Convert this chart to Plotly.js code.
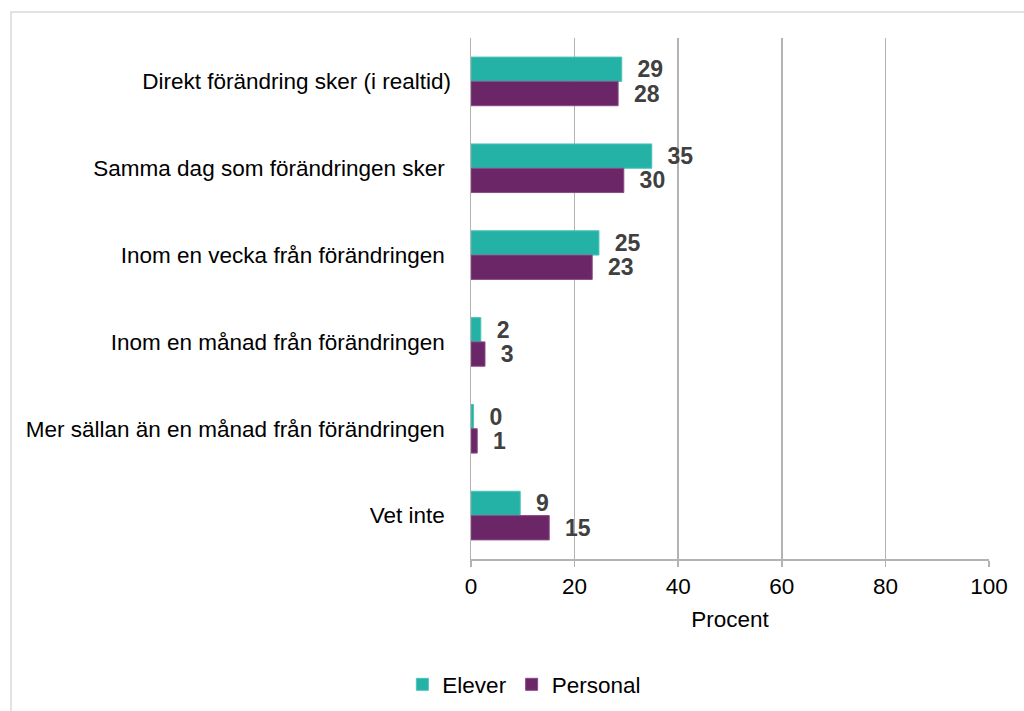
<!DOCTYPE html>
<html>
<head>
<meta charset="utf-8">
<script src="https://cdn.plot.ly/plotly-3.0.1.min.js"></script>
<style>
html,body{margin:0;padding:0;background:#fff;overflow:hidden;}
#chart{width:1024px;height:711px;}
</style>
</head>
<body>
<div id="chart"></div>
<script>
const categories = [
  "Direkt förändring sker (i realtid)",
  "Samma dag som förändringen sker ",
  "Inom en vecka från förändringen ",
  "Inom en månad från förändringen ",
  "Mer sällan än en månad från förändringen ",
  "Vet inte "
];
const eleverValues = [29.1, 34.9, 24.7, 1.9, 0.5, 9.5];
const personalValues = [28.4, 29.5, 23.4, 2.7, 1.2, 15.1];
const eleverLabels = ["29", "35", "25", "2", "0", "9"];
const personalLabels = ["28", "30", "23", "3", "1", "15"];
const xTicks = [0, 20, 40, 60, 80, 100];

const pad = "\u00a0\u00a0";
const labelFont = {family: "Liberation Sans, Arial, sans-serif", size: 23, color: "#404040", weight: "bold"};
const txt = 22.5;

const traces = [
  {
    type: "bar", orientation: "h", name: "Elever",
    x: eleverValues, y: categories,
    text: eleverLabels.map(t => pad + "<b>" + t + "</b>"),
    textposition: "outside", textfont: labelFont, constraintext: "none", cliponaxis: false,
    marker: {color: "#23B2A5", line: {color: "#4CC4B9", width: 1}},
    hoverinfo: "x+y"
  },
  {
    type: "bar", orientation: "h", name: "Personal",
    x: personalValues, y: categories,
    text: personalLabels.map(t => pad + "<b>" + t + "</b>"),
    textposition: "outside", textfont: labelFont, constraintext: "none", cliponaxis: false,
    marker: {color: "#6B2667", line: {color: "#8A4A86", width: 1}},
    hoverinfo: "x+y"
  }
];

const layout = {
  width: 1024, height: 711,
  margin: {l: 471, r: 35, t: 38, b: 152, autoexpand: false},
  paper_bgcolor: "#ffffff", plot_bgcolor: "#ffffff",
  font: {family: "Liberation Sans, Arial, sans-serif", size: txt, color: "#000000"},
  barmode: "group", bargap: 0.44, bargroupgap: 0,
  showlegend: true,
  legend: {orientation: "h", x: 0.103, xanchor: "center", y: -0.2, yanchor: "top",
           traceorder: "normal", font: {size: txt, color: "#000"}, itemwidth: 30},
  xaxis: {
    range: [0, 100], tickvals: xTicks, ticktext: xTicks.map(String),
    showgrid: true, gridcolor: "#b3b3b3", gridwidth: 1.5,
    showline: true, linecolor: "#b3b3b3", linewidth: 1.5,
    ticks: "outside", ticklen: 6, tickcolor: "#b3b3b3", tickwidth: 1.5,
    ticklabelstandoff: 0, automargin: false,
    zeroline: false, fixedrange: true,
    tickfont: {size: txt, color: "#000"},
    title: {text: "Procent", font: {size: txt, color: "#000"}, standoff: 13}
  },
  yaxis: {
    autorange: "reversed", type: "category",
    showline: true, linecolor: "#b3b3b3", linewidth: 1.5,
    ticks: "", showgrid: false, zeroline: false, fixedrange: true,
    ticklabelstandoff: 14, automargin: false,
    tickfont: {size: txt, color: "#000"}
  },
  shapes: [{
    type: "rect", xref: "paper", yref: "paper", layer: "below",
    x0: -0.888, x1: 2, y0: -0.4, y1: 1.05,
    line: {color: "#d9d9d9", width: 1.5}, fillcolor: "rgba(0,0,0,0)"
  }]
};

Plotly.newPlot("chart", traces, layout, {displayModeBar: false, staticPlot: true});
</script>
</body>
</html>
